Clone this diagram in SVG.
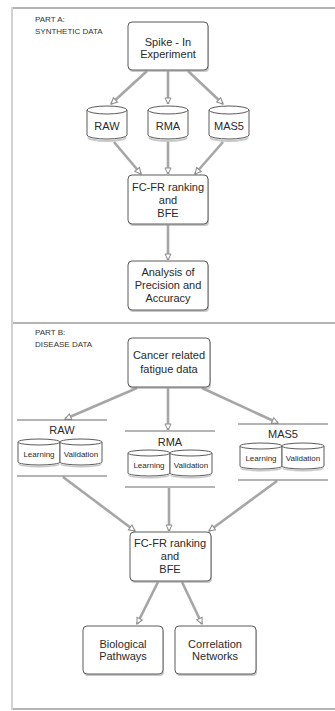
<svg xmlns="http://www.w3.org/2000/svg" width="335" height="711" viewBox="0 0 335 711">
  <style>
    .frame { stroke: #b4b4b4; fill: none; }
    .box { fill: #ffffff; stroke: #5a5a5a; stroke-width: 1; }
    .shadow { fill: #9a9a9a; opacity: 0.55; }
    .db { fill: #ffffff; stroke: #5a5a5a; stroke-width: 1; }
    .sep { stroke: #6a6a6a; stroke-width: 1; }
    .edge { stroke: #a6a6a6; stroke-width: 2.6; fill: none; marker-end: url(#hollow); }
    text { font-family: "Liberation Sans", Arial, sans-serif; fill: #2a2a2a; text-anchor: middle; }
    .lbl { font-size: 11px; }
    .part { font-size: 8px; text-anchor: start; fill: #333; }
    .small { font-size: 8px; }
  </style>
  <defs>
    <marker id="hollow" markerUnits="userSpaceOnUse" markerWidth="10" markerHeight="10" refX="7" refY="4" orient="auto">
      <path d="M1,1 L7,4 L1,7 Z" fill="#ffffff" stroke="#8a8a8a" stroke-width="1"/>
    </marker>
    <!-- single cylinder, origin at top-left, 40 x 33 -->
    <g id="cyl">
      <path class="shadow" d="M0.5,30 A19.5,4 0 0 0 39.5,30 L39.5,32 A19.5,4 0 0 1 0.5,32 Z"/>
      <path class="db" d="M0,4 A20,4 0 0 1 40,4 L40,29 A20,4 0 0 1 0,29 Z"/>
      <path class="db" fill="none" d="M0,4 A20,4 0 0 0 40,4"/>
    </g>
    <!-- half of a learning/validation pair, 42 x 26 -->
    <g id="half">
      <path class="shadow" d="M0.5,24 A20.5,3 0 0 0 41.5,24 L41.5,25.5 A20.5,3 0 0 1 0.5,25.5 Z"/>
      <path class="db" d="M0,3 A21,3 0 0 1 42,3 L42,23 A21,3 0 0 1 0,23 Z"/>
      <path class="db" fill="none" d="M0,3 A21,3 0 0 0 42,3"/>
    </g>
  </defs>

  <rect width="335" height="711" fill="#ffffff"/>

  <!-- page frame and section divider -->
  <g id="frame">
    <line class="frame" x1="12" y1="7" x2="12" y2="710" stroke-width="1.2"/>
    <line class="frame" x1="13" y1="8" x2="335" y2="8" stroke-width="2"/>
    <line class="frame" x1="13" y1="323" x2="335" y2="323" stroke-width="2"/>
    <line class="frame" x1="13" y1="709" x2="335" y2="709" stroke-width="2"/>
  </g>

  <g id="connectors">
    <!-- part A -->
    <line class="edge" x1="147" y1="71" x2="111" y2="104"/>
    <line class="edge" x1="168" y1="71" x2="168" y2="104"/>
    <line class="edge" x1="188" y1="71" x2="223" y2="104"/>
    <line class="edge" x1="114" y1="142" x2="141" y2="174"/>
    <line class="edge" x1="168" y1="142" x2="168" y2="174"/>
    <line class="edge" x1="223" y1="142" x2="195" y2="174"/>
    <line class="edge" x1="168" y1="225" x2="168" y2="260"/>
    <!-- part B -->
    <line class="edge" x1="137" y1="388" x2="65" y2="419"/>
    <line class="edge" x1="168" y1="388" x2="168" y2="430"/>
    <line class="edge" x1="202" y1="388" x2="278" y2="423"/>
    <line class="edge" x1="63" y1="477" x2="135" y2="531"/>
    <line class="edge" x1="169" y1="488" x2="169" y2="531"/>
    <line class="edge" x1="277" y1="481" x2="209" y2="531"/>
    <line class="edge" x1="158" y1="582" x2="137" y2="624"/>
    <line class="edge" x1="182" y1="582" x2="202" y2="624"/>
  </g>

  <!-- PART A -->
  <g id="partA-title">
    <text class="part" x="35" y="22">PART A:</text>
    <text class="part" x="35" y="34">SYNTHETIC DATA</text>
  </g>

  <g id="spike">
    <rect class="shadow" x="129" y="24" width="80" height="48" rx="4"/>
    <rect class="box" x="128" y="22" width="80" height="48" rx="4"/>
    <text class="lbl" x="168" y="46">Spike - In</text>
    <text class="lbl" x="168" y="58">Experiment</text>
  </g>

  <g id="rawA">
    <use href="#cyl" x="87" y="106"/>
    <text class="lbl" x="107" y="130">RAW</text>
  </g>
  <g id="rmaA">
    <use href="#cyl" x="148" y="106"/>
    <text class="lbl" x="168" y="130">RMA</text>
  </g>
  <g id="mas5A">
    <use href="#cyl" x="209" y="106"/>
    <text class="lbl" x="229" y="130">MAS5</text>
  </g>

  <g id="fcfrA">
    <rect class="shadow" x="129" y="177" width="80" height="49" rx="4"/>
    <rect class="box" x="128" y="175" width="80" height="49" rx="4"/>
    <text class="lbl" x="168" y="191">FC-FR ranking</text>
    <text class="lbl" x="168" y="204">and</text>
    <text class="lbl" x="168" y="217">BFE</text>
  </g>

  <g id="analysis">
    <rect class="shadow" x="129" y="263" width="80" height="49" rx="4"/>
    <rect class="box" x="128" y="261" width="80" height="49" rx="4"/>
    <text class="lbl" x="168" y="276">Analysis of</text>
    <text class="lbl" x="168" y="289">Precision and</text>
    <text class="lbl" x="168" y="302">Accuracy</text>
  </g>

  <!-- PART B -->
  <g id="partB-title">
    <text class="part" x="35" y="335">PART B:</text>
    <text class="part" x="35" y="347">DISEASE DATA</text>
  </g>

  <g id="cancer">
    <rect class="shadow" x="129" y="340" width="82" height="49" rx="4"/>
    <rect class="box" x="128" y="338" width="82" height="49" rx="4"/>
    <text class="lbl" x="169" y="359">Cancer related</text>
    <text class="lbl" x="169" y="373">fatigue data</text>
  </g>

  <g id="rawB">
    <line class="sep" x1="17" y1="420" x2="107" y2="420"/>
    <text class="lbl" x="62" y="434">RAW</text>
    <use href="#half" x="18" y="439"/>
    <use href="#half" x="60" y="439"/>
    <text class="small" x="39" y="457">Learning</text>
    <text class="small" x="81" y="457">Validation</text>
    <line class="sep" x1="17" y1="476" x2="107" y2="476"/>
  </g>

  <g id="rmaB">
    <line class="sep" x1="125" y1="431" x2="215" y2="431"/>
    <text class="lbl" x="170" y="446">RMA</text>
    <use href="#half" x="128" y="450"/>
    <use href="#half" x="170" y="450"/>
    <text class="small" x="149" y="468">Learning</text>
    <text class="small" x="191" y="468">Validation</text>
    <line class="sep" x1="125" y1="487" x2="215" y2="487"/>
  </g>

  <g id="mas5B">
    <line class="sep" x1="238" y1="424" x2="328" y2="424"/>
    <text class="lbl" x="283" y="438">MAS5</text>
    <use href="#half" x="240" y="443"/>
    <use href="#half" x="282" y="443"/>
    <text class="small" x="261" y="461">Learning</text>
    <text class="small" x="303" y="461">Validation</text>
    <line class="sep" x1="238" y1="480" x2="328" y2="480"/>
  </g>

  <g id="fcfrB">
    <rect class="shadow" x="131" y="534" width="81" height="49" rx="4"/>
    <rect class="box" x="130" y="532" width="81" height="49" rx="4"/>
    <text class="lbl" x="170" y="547">FC-FR ranking</text>
    <text class="lbl" x="170" y="560">and</text>
    <text class="lbl" x="170" y="573">BFE</text>
  </g>

  <g id="pathways">
    <rect class="shadow" x="84" y="628" width="80" height="48" rx="4"/>
    <rect class="box" x="83" y="626" width="80" height="48" rx="4"/>
    <text class="lbl" x="123" y="648">Biological</text>
    <text class="lbl" x="123" y="660">Pathways</text>
  </g>

  <g id="networks">
    <rect class="shadow" x="176" y="628" width="81" height="48" rx="4"/>
    <rect class="box" x="175" y="626" width="81" height="48" rx="4"/>
    <text class="lbl" x="215" y="648">Correlation</text>
    <text class="lbl" x="215" y="660">Networks</text>
  </g>
</svg>
